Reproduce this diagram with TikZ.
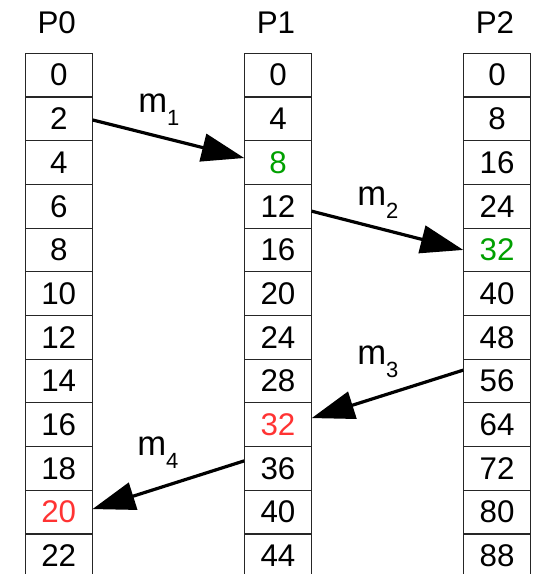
\documentclass[tikz,border=0pt]{standalone}
\usepackage{fontspec}
\setmainfont{Liberation Sans}
\usetikzlibrary{arrows.meta}
\definecolor{recvgreen}{HTML}{00A000}
\definecolor{lostred}{HTML}{FF3333}
\newcommand{\msglabel}[1]{m\raisebox{-9.75pt}{\fontsize{16.5}{19}\selectfont #1}}

\begin{document}
\begin{tikzpicture}[x=0.75pt, y=-0.75pt,
    cell/.style={draw=black!85, line width=0.75pt, minimum width=50.6pt,
                 minimum height=32.8pt, inner sep=0pt, outer sep=0pt,
                 font=\fontsize{23.5}{28}\selectfont},
    head/.style={font=\fontsize{23.5}{28}\selectfont, inner sep=0pt},
    msg/.style={-{Triangle[length=32pt,width=21pt]}, line width=2.4pt},
    lbl/.style={font=\fontsize{26}{30}\selectfont, inner sep=0pt, anchor=base west},
]
\useasboundingbox (0,0) rectangle (538,574);
\clip (0,0) rectangle (538,574);

% Column x-positions and rows
\def\xpa{58.75}
\def\xpb{278}
\def\xpc{497}
\def\ytop{53.3}
\def\rowh{43.7}

% --- Process headers ---
\node[head] (h0) at (\xpa-2, 23) {P0};
\node[head] (h1) at (\xpb-2, 23) {P1};
\node[head] (h2) at (\xpc-2, 23) {P2};

% --- Clock columns ---
\foreach \v [count=\k from 0] in {0,2,4,6,8,10,12,14,16,18,{\textcolor{lostred}{20}},22} {
    \node[cell] (p0r\k) at (\xpa, {\ytop+\rowh*(\k+0.5)}) {\v};
}
\foreach \v [count=\k from 0] in {0,4,{\textcolor{recvgreen}{8}},12,16,20,24,28,{\textcolor{lostred}{32}},36,40,44} {
    \node[cell] (p1r\k) at (\xpb, {\ytop+\rowh*(\k+0.5)}) {\v};
}
\foreach \v [count=\k from 0] in {0,8,16,24,{\textcolor{recvgreen}{32}},40,48,56,64,72,80,88} {
    \node[cell] (p2r\k) at (\xpc, {\ytop+\rowh*(\k+0.5)}) {\v};
}

% --- Messages ---
\draw[msg] ([yshift=-0.8pt]p0r1.east) -- ([yshift=3.4pt]p1r2.west);
\draw[msg] ([yshift=-3.7pt]p1r3.east) -- (p2r4.west);
\draw[msg] ([yshift=8.2pt]p2r7.west) -- ([yshift=5pt]p1r8.east);
\draw[msg] ([yshift=5.7pt]p1r9.west) -- ([yshift=2.3pt]p0r10.east);

\node[lbl] (m1) at (138, 113) {\msglabel{1}};
\node[lbl] (m2) at (357, 205) {\msglabel{2}};
\node[lbl] (m3) at (357, 364) {\msglabel{3}};
\node[lbl] (m4) at (137, 455) {\msglabel{4}};

\end{tikzpicture}
\end{document}
